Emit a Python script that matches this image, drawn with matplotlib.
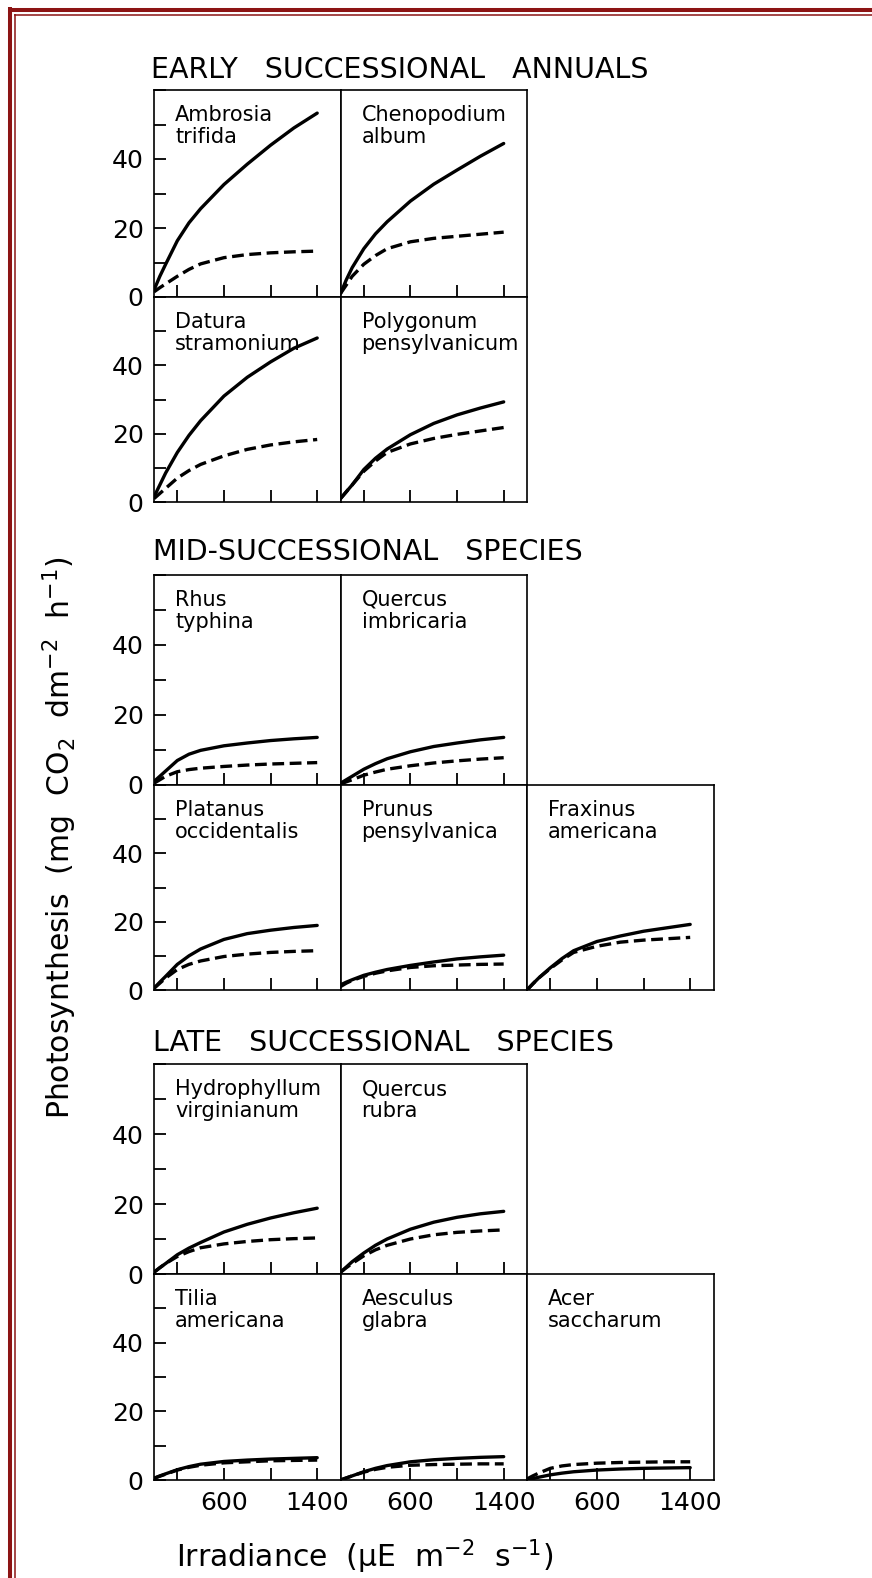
import matplotlib
matplotlib.use('Agg')

import matplotlib.pyplot as plt
from matplotlib.lines import Line2D

# irradiance points (uE m-2 s-1) at which the curves were read
irradiance = [0, 50, 100, 200, 300, 400, 600, 800, 1000, 1200, 1400]

# early successional annuals
early_names = ["Ambrosia\ntrifida", "Chenopodium\nalbum",
               "Datura\nstramonium", "Polygonum\npensylvanicum"]
early_solid = [
    [2, 6, 9.5, 16.3, 21.5, 25.6, 32.6, 38.5, 44, 49, 53.3],
    [1, 5, 8.5, 14, 18.3, 21.8, 27.8, 32.7, 36.8, 40.8, 44.5],
    [1.5, 5, 8.5, 14.5, 19.5, 23.8, 31, 36.5, 41, 45, 48],
    [1, 3, 5, 9.5, 12.8, 15.5, 19.7, 23, 25.5, 27.5, 29.3],
]
early_dashed = [
    [1.5, 2.7, 3.8, 6, 8, 9.6, 11.4, 12.3, 12.8, 13.1, 13.3],
    [1, 3.5, 6, 9.5, 12, 14, 16, 17, 17.6, 18.2, 18.8],
    [1, 2.5, 4, 7, 9.2, 11, 13.5, 15.4, 16.7, 17.6, 18.3],
    [1, 3, 5, 9, 12, 14.5, 17, 18.6, 19.8, 20.8, 21.8],
]

# mid-successional species
mid_names = ["Rhus\ntyphina", "Quercus\nimbricaria", "Platanus\noccidentalis",
             "Prunus\npensylvanica", "Fraxinus\namericana"]
mid_solid = [
    [1, 2.5, 4, 7, 8.8, 9.9, 11.2, 12, 12.7, 13.2, 13.6],
    [0.5, 1.5, 2.5, 4.5, 6.1, 7.5, 9.5, 11, 12, 12.9, 13.6],
    [0.5, 2.3, 4, 7.5, 10, 12, 14.8, 16.5, 17.5, 18.3, 18.9],
    [1.5, 2.3, 3, 4.3, 5.2, 6, 7.2, 8.2, 9.1, 9.7, 10.2],
    [0, 1.8, 3.5, 6.5, 9.2, 11.5, 14.2, 15.8, 17.2, 18.2, 19.2],
]
mid_dashed = [
    [0.5, 1.5, 2.5, 3.8, 4.4, 4.8, 5.3, 5.7, 6, 6.2, 6.4],
    [0.3, 0.9, 1.5, 2.8, 3.7, 4.5, 5.5, 6.3, 6.9, 7.4, 7.8],
    [0.5, 2, 3.5, 6, 7.5, 8.5, 9.8, 10.5, 11, 11.3, 11.5],
    [1, 2, 2.8, 4, 4.9, 5.6, 6.6, 7.1, 7.3, 7.5, 7.6],
    [0, 1.8, 3.5, 6.3, 8.8, 11, 12.8, 14, 14.6, 15, 15.4],
]

# late successional species
late_names = ["Hydrophyllum\nvirginianum", "Quercus\nrubra", "Tilia\namericana",
              "Aesculus\nglabra", "Acer\nsaccharum"]
late_solid = [
    [0.5, 1.8, 3, 5.5, 7.4, 9, 12, 14.2, 16, 17.5, 18.8],
    [0.5, 2, 3.5, 6, 8.2, 10, 12.8, 14.8, 16.2, 17.2, 17.9],
    [0.5, 1.2, 1.8, 3, 3.9, 4.6, 5.4, 5.8, 6.1, 6.3, 6.5],
    [0, 0.6, 1.2, 2.4, 3.4, 4.2, 5.3, 5.9, 6.3, 6.6, 6.8],
    [0, 0.4, 0.8, 1.5, 2, 2.4, 2.9, 3.2, 3.4, 3.5, 3.6],
]
late_dashed = [
    [0.5, 1.8, 3, 5, 6.4, 7.5, 8.6, 9.3, 9.8, 10.1, 10.3],
    [0.5, 1.8, 3, 5.2, 6.9, 8.2, 10, 11.2, 11.9, 12.3, 12.6],
    [0.5, 1.1, 1.7, 2.9, 3.7, 4.3, 5, 5.3, 5.6, 5.7, 5.8],
    [0, 0.6, 1.2, 2.3, 3.1, 3.7, 4.3, 4.5, 4.6, 4.7, 4.7],
    [0.3, 1.2, 2, 3.4, 4.1, 4.5, 4.9, 5.1, 5.2, 5.3, 5.3],
]

y_ticks = [0, 10, 20, 30, 40, 50, 60]
y_ticklabels = ["0", "", "20", "", "40", "", ""]
x_ticks = [200, 600, 1000, 1400]
x_ticklabels = ["", "600", "", "1400"]

W, H = 872, 1578
plt.rcParams['lines.scale_dashes'] = False
plt.rcParams['mathtext.default'] = 'regular'
plt.rcParams['font.family'] = ['DejaVu Sans']

fig = plt.figure(figsize=(W / 100, H / 100), dpi=100)
fig.patch.set_facecolor('white')


def box(left, top, width, height):
    # pixel box (from the top-left corner) -> figure fraction
    return [left / W, 1 - (top + height) / H, width / W, height / H]


col_left = [154, 340.5, 527]
col_w = 186.5
two_by_two = [(0, 0), (0, 1), (1, 0), (1, 1)]
two_plus_three = [(0, 0), (0, 1), (1, 0), (1, 1), (1, 2)]

sections = [
    ("EARLY   SUCCESSIONAL   ANNUALS", 151, 78, [90, 297, 502],
     early_names, early_solid, early_dashed, two_by_two, False),
    ("MID-SUCCESSIONAL   SPECIES", 153, 560, [575, 785, 990],
     mid_names, mid_solid, mid_dashed, two_plus_three, False),
    ("LATE   SUCCESSIONAL   SPECIES", 153, 1051, [1064, 1274, 1480],
     late_names, late_solid, late_dashed, two_plus_three, True),
]

for title, tx, ty, rows, names, solid, dashed, cells, last in sections:
    fig.text(tx / W, 1 - ty / H, title, fontsize=20.5, ha='left', va='baseline')
    for name, s, d, (r, c) in zip(names, solid, dashed, cells):
        top, bottom = rows[r], rows[r + 1]
        ax = fig.add_axes(box(col_left[c], top, col_w, bottom - top))
        ax.plot(irradiance, s, color='black', lw=2.4, solid_capstyle='round',
                solid_joinstyle='round')
        ax.plot(irradiance, d, color='black', lw=2.4, dashes=(8.5, 4))
        ax.set_xlim(0, 1600)
        ax.set_ylim(0, 60)
        for sp in ax.spines.values():
            sp.set_linewidth(1.2)
        ax.set_xticks(x_ticks)
        if last and r == 1:
            ax.set_xticklabels(x_ticklabels)
        else:
            ax.set_xticklabels([])
        if c == 0:
            ax.set_yticks(y_ticks)
            ax.set_yticklabels(y_ticklabels)
        else:
            ax.set_yticks([])
        ax.tick_params(direction='in', length=8.6, width=1.3, labelsize=18)
        ax.tick_params(axis='y', pad=7.5)
        ax.tick_params(axis='x', pad=8)
        ax.text(21 / col_w, 1 - 15 / (bottom - top), name, transform=ax.transAxes,
                fontsize=15, ha='left', va='top', linespacing=1.1)

fig.text(60 / W, 1 - 838 / H, r'Photosynthesis  (mg  CO$_2$  dm$^{-2}$  h$^{-1}$)',
         rotation=90, fontsize=21.5, ha='center', va='center')
fig.text(176 / W, 1 - 1557 / H, r'Irradiance  ($\mu$E  m$^{-2}$  s$^{-1}$)',
         fontsize=21.5, ha='left', va='center')

# dark red double border (top and left)
red = '#8c1414'
fig.add_artist(Line2D([10 / W, 10 / W], [1 - 7 / H, 0], transform=fig.transFigure,
                      color=red, lw=2.9, solid_capstyle='butt'))
fig.add_artist(Line2D([8 / W, 1], [1 - 9.5 / H, 1 - 9.5 / H], transform=fig.transFigure,
                      color=red, lw=2.9, solid_capstyle='butt'))
fig.add_artist(Line2D([14.5 / W, 14.5 / W], [1 - 14 / H, 0], transform=fig.transFigure,
                      color=red, lw=1.1, solid_capstyle='butt'))
fig.add_artist(Line2D([14 / W, 1], [1 - 14.5 / H, 1 - 14.5 / H], transform=fig.transFigure,
                      color=red, lw=1.1, solid_capstyle='butt'))

fig.savefig('out.png', dpi=100, facecolor='white')
